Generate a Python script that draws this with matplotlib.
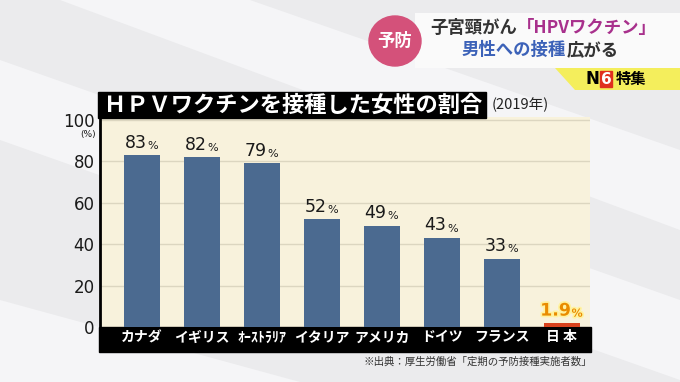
import matplotlib.pyplot as plt
import matplotlib.patheffects as pe
from matplotlib.patches import Rectangle, Ellipse, Polygon
from matplotlib.text import Annotation

# chart data
countries = ['カナダ', 'イギリス', 'ｵｰｽﾄﾗﾘｱ', 'イタリア', 'アメリカ', 'ドイツ', 'フランス', '日 本']
rates = [83, 82, 79, 52, 49, 43, 33, 1.9]
rate_labels = ['83', '82', '79', '52', '49', '43', '33', '1.9']
yticks = [0, 20, 40, 60, 80, 100]

JP = 'Noto Sans CJK JP'
plt.rcParams['font.family'] = [JP, 'DejaVu Sans']

W, H = 680, 382
fig = plt.figure(figsize=(W / 100, H / 100), dpi=100)
fig.patch.set_facecolor('#ebebed')


def fx(px):
    return px / W


def fy(py):
    return 1 - py / H


# soft diagonal streaks in the background
streaks = [
    [(0, 140), (0, 60), (680, 300), (680, 380)],
    [(0, 382), (0, 300), (300, 382)],
    [(60, 0), (250, 0), (680, 150), (680, 230)],
]
for pts in streaks:
    fig.add_artist(Polygon([(fx(a), fy(b)) for a, b in pts], closed=True,
                           transform=fig.transFigure, color='#f5f5f7', lw=0, zorder=-5))

# main axes
ax = fig.add_axes([fx(100), fy(327), fx(590) - fx(100), (327 - 117) / H])
ax.set_facecolor('#f8f2dc')
x = list(range(len(countries)))
colors = ['#4b6a90'] * (len(countries) - 1) + ['#d8421d']
ax.bar(x, rates, width=0.6, color=colors, zorder=3)
ax.set_xlim(-0.7, 7.47)
ax.set_ylim(0, 101.4)
ax.set_yticks(yticks)
ax.set_yticklabels([str(v) for v in yticks], family='DejaVu Sans', fontsize=12, color='#1a1a1a')
ax.yaxis.grid(True, color='#dcd6c0', lw=1)
ax.tick_params(axis='y', length=0, pad=4)
ax.set_xticks(x)
ax.set_xticklabels(countries, color='white', fontsize=10, fontweight='bold')
ax.tick_params(axis='x', length=0, pad=2.5)
for s in ['top', 'right', 'bottom']:
    ax.spines[s].set_visible(False)
ax.spines['left'].set_color('black')
ax.spines['left'].set_linewidth(2)

# black band behind the category names
ax.add_patch(Rectangle((-0.72, -12.2), 8.2, 12.2, color='black', clip_on=False, zorder=1.5))

fig.text(fx(88), fy(134), '(%)', ha='center', va='center', fontsize=6.5, family='DejaVu Sans', color='#1a1a1a')

# value labels
for i, (v, lab) in enumerate(zip(rates, rate_labels)):
    if i == len(rates) - 1:
        kw = dict(color='#e98c00', fontweight='bold',
                  path_effects=[pe.withStroke(linewidth=2.5, foreground='#fff2a0')])
    else:
        kw = dict(color='#1a1a1a')
    t = ax.annotate(lab, xy=(i, v), xytext=(-4.5, 2.5), textcoords='offset points',
                    ha='center', va='bottom', fontsize=12.5, family='DejaVu Sans', zorder=5, **kw)
    ax.annotate('%', xy=(1.02, 0.05), xycoords=t, ha='left', va='bottom',
                fontsize=8, family='DejaVu Sans', zorder=5, **kw)

# title bar
fig.add_artist(Rectangle((fx(98), fy(118)), fx(486) - fx(98), 26 / H, transform=fig.transFigure,
                         color='black', zorder=2))
fig.text(fx(104), fy(105), 'ＨＰＶワクチンを接種した女性の割合', ha='left', va='center',
         color='white', fontsize=16, fontweight='bold', zorder=3)
fig.text(fx(492), fy(105), '(2019年)', ha='left', va='center', fontsize=10.5, color='#222222')

# source note
fig.text(fx(592), fy(362), '※出典：厚生労働省「定期の予防接種実施者数」', ha='right', va='center',
         fontsize=7.5, color='#333333')

# header at top right
fig.add_artist(Rectangle((fx(415), fy(68)), fx(680) - fx(415), 55 / H, transform=fig.transFigure,
                         color='#fafafa', lw=0, zorder=1))
fig.add_artist(Ellipse((fx(395), fy(41)), 52 / W, 50 / H, transform=fig.transFigure,
                       color='#d4517a', zorder=2))
fig.text(fx(395), fy(41), '予防', ha='center', va='center', color='white', fontsize=12.5,
         fontweight='bold', zorder=3)


def add_after(prev, text, color):
    a = Annotation(text, xy=(1, 0), xycoords=prev, ha='left', va='bottom', fontsize=12.5,
                   fontweight='bold', color=color, zorder=3)
    fig.add_artist(a)
    return a


t1 = fig.text(fx(430), fy(28), '子宮頸がん', ha='left', va='center', fontsize=12.5,
              fontweight='bold', color='#333333', zorder=3)
add_after(t1, '「HPVワクチン」', '#a8308c')
t3 = fig.text(fx(462), fy(50), '男性への接種', ha='left', va='center', fontsize=12.5,
              fontweight='bold', color='#3c62b8', zorder=3)
add_after(t3, '広がる', '#333333')

# yellow "N6 特集" tab
fig.add_artist(Polygon([(fx(555), fy(68)), (fx(680), fy(68)), (fx(680), fy(90)), (fx(575), fy(90))],
                       closed=True, transform=fig.transFigure, color='#f4ee5c', lw=0, zorder=1))
fig.text(fx(592), fy(79), 'N', ha='center', va='center', fontsize=12, fontweight='bold',
         family='DejaVu Sans', color='black', zorder=3)
fig.add_artist(Rectangle((fx(600), fy(87)), 12 / W, 16 / H, transform=fig.transFigure,
                         color='#e0301e', zorder=2))
fig.text(fx(606), fy(79), '6', ha='center', va='center', fontsize=11, fontweight='bold',
         family='DejaVu Sans', color='white', zorder=3)
fig.text(fx(616), fy(79), '特集', ha='left', va='center', fontsize=11, fontweight='bold',
         color='black', zorder=3)

fig.savefig('out.png', dpi=100, facecolor=fig.get_facecolor())
